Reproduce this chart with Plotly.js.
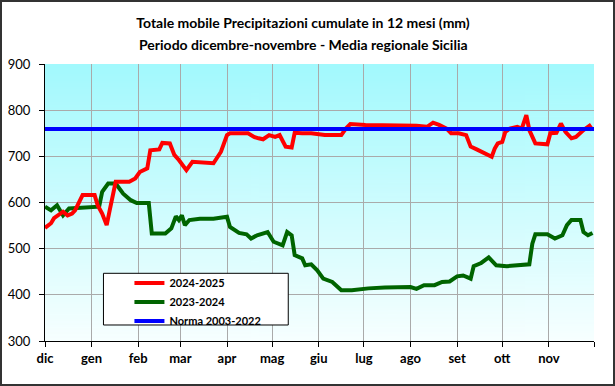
<!DOCTYPE html>
<html><head><meta charset="utf-8">
<script src="https://cdn.plot.ly/plotly-3.0.1.min.js"></script>
<style>
html,body{margin:0;padding:0;background:#fff}
#wrap{position:relative;width:615px;height:386px}
#chart{width:615px;height:386px}
#frame{position:absolute;left:0;top:0;width:615px;height:386px;box-sizing:border-box;border:2px solid #333;pointer-events:none}
</style>
</head><body><div id="wrap"><div id="chart"></div><div id="frame"></div></div>
<script>
// Month ticks (day offset from 1 December)
const monthStarts = [0,31,62,90,121,151,182,212,243,274,304,335,365];
const monthLabels = ['dic','gen','feb','mar','apr','mag','giu','lug','ago','set','ott','nov',''];

// 2024-2025 series (day offset, mm)
const days2425 = [0,4,6,9,12,15,18,20,22,25,33,35,38,41,43,47,56,60,63,68,70,76,78,83,86,89,94,98,112,117,121,123,135,139,142,145,149,153,156,160,164,166,171,177,186,197,200,203,213,231,247,254,258,262,267,270,275,280,283,287,290,294,297,299,301,304,306,309,314,317,320,322,326,334,336,340,343,346,350,353,358,362,364];
const vals2425 = [545,555,566,572,580,572,576,583,598,616,616,594,576,551,583,645,645,652,666,674,713,715,729,728,703,692,670,688,685,710,746,750,750,742,739,737,746,742,746,721,719,751,750,750,746,746,760,770,768,768,766,764,773,768,760,750,750,746,721,715,710,703,699,717,728,731,753,760,764,760,789,757,728,726,750,751,771,753,739,742,757,766,757];

// 2023-2024 series
const days2324 = [0,4,8,10,12,16,26,36,38,42,47,52,57,61,69,71,80,84,87,89,91,93,96,103,112,121,123,129,134,137,141,148,152,158,161,164,166,171,173,177,181,185,191,197,204,208,215,226,235,243,247,252,259,264,269,274,278,283,285,290,295,300,307,316,322,324,326,334,339,344,347,350,356,358,361,364];
const vals2324 = [591,583,594,583,572,587,588,591,623,641,641,619,605,599,599,533,533,544,570,562,572,551,562,565,565,569,547,534,531,522,529,536,515,507,536,529,486,479,464,466,453,435,428,410,410,412,414,416,417,417,413,421,421,428,429,440,442,435,462,469,481,464,462,464,466,511,531,531,522,529,551,562,562,536,529,534];

// Norma 2003-2022
const daysNorma = [0,365];
const valsNorma = [759,759];

const yTicks = [300,400,500,600,700,800,900];
const titleLine1 = 'Totale mobile Precipitazioni cumulate in 12 mesi (mm)';
const titleLine2 = 'Periodo dicembre-novembre - Media regionale Sicilia';

const cv = document.createElement('canvas'); cv.width = 4; cv.height = 256;
const ctx = cv.getContext('2d');
const g = ctx.createLinearGradient(0,0,0,256);
g.addColorStop(0,'#a2f9fd'); g.addColorStop(1,'#f7ffff');
ctx.fillStyle = g; ctx.fillRect(0,0,4,256);

const FONT = 'Lato';
const titleFont = {family:FONT, size:14, color:'#000', weight:'bold'};
const data = [
  {x: days2324, y: vals2324, name: '2023-2024', type:'scatter', mode:'lines', line:{color:'#006400', width:4}, legendrank:2},
  {x: days2425, y: vals2425, name: '2024-2025', type:'scatter', mode:'lines', line:{color:'#ff0000', width:4}, legendrank:1},
  {x: daysNorma, y: valsNorma, name: 'Norma 2003-2022', type:'scatter', mode:'lines', line:{color:'#0000ff', width:4}, legendrank:3}
];

const layout = {
  width:615, height:386,
  margin:{l:45, r:21, t:64, b:45, pad:0},
  paper_bgcolor:'#ffffff', plot_bgcolor:'rgba(0,0,0,0)',
  title:{text:titleLine1, font:titleFont,
    x:0.4927, xref:'container', xanchor:'center', y:1-23/386, yref:'container', yanchor:'middle'},
  annotations:[{text:titleLine2, font:titleFont, showarrow:false,
    xref:'paper', yref:'paper', x:(303-45)/549, y:(341-44)/277, xanchor:'center', yanchor:'middle'}],
  xaxis:{range:[0,365], tickmode:'array', tickvals:monthStarts, ticktext:monthLabels,
    showgrid:true, gridcolor:'#aaaaaa', gridwidth:1, showline:true, linecolor:'#000', linewidth:1,
    ticks:'outside', ticklen:5, tickcolor:'#000', zeroline:false,
    tickfont:{family:FONT, size:13, color:'#000', weight:'bold'}},
  yaxis:{range:[300,900], tickmode:'array', tickvals:yTicks,
    showgrid:true, gridcolor:'#aaaaaa', gridwidth:1, showline:true, linecolor:'#000', linewidth:1,
    ticks:'outside', ticklen:5, tickcolor:'#000', zeroline:false, ticklabelstandoff:6,
    tickfont:{family:FONT, size:13, color:'#000'}},
  showlegend:true,
  legend:{x:0.1538, xanchor:'left', y:0.262, yanchor:'top', bgcolor:'rgba(0,0,0,0)', borderwidth:0,
    font:{family:FONT, size:11, color:'#000', weight:'bold'}, itemwidth:30, tracegroupgap:0},
  images:[{source:cv.toDataURL(), xref:'paper', yref:'paper', x:0, y:1, sizex:1, sizey:1,
    sizing:'stretch', xanchor:'left', yanchor:'top', layer:'below'}],
  shapes:[{type:'rect', xref:'paper', yref:'paper', x0:0.1065, x1:0.4431, y0:0.0578, y1:0.2444,
    fillcolor:'#ffffff', line:{color:'#000', width:1}, layer:'above'}]
};

Plotly.newPlot('chart', data, layout, {staticPlot:true, displayModeBar:false});
</script>
</body></html>
